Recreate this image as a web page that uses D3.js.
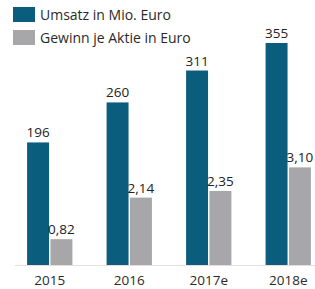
<!DOCTYPE html>
<html>
<head>
<meta charset="utf-8">
<script src="https://cdn.jsdelivr.net/npm/d3@7"></script>
<style>
  body { margin: 0; background: #fff; }
  text { font-family: "Open Sans", "Noto Sans", sans-serif; }
</style>
</head>
<body>
<div id="chart"></div>
<script>
const years = ["2015", "2016", "2017e", "2018e"];
const umsatz = [196, 260, 311, 355];
const gewinn = [0.82, 2.14, 2.35, 3.10];
const gewinnLabels = ["0,82", "2,14", "2,35", "3,10"];
const seriesNames = ["Umsatz in Mio. Euro", "Gewinn je Aktie in Euro"];
const colors = ["#0b5d7e", "#a7a7a9"];

const width = 315, height = 289;
const baseY = 265;

const svg = d3.select("#chart")
  .append("svg")
  .attr("width", width)
  .attr("height", height);

// outer band for the year groups
const x = d3.scaleBand()
  .domain(years)
  .range([10, 328])
  .paddingInner(0.43)
  .paddingOuter(0.215);

// inner band for the two series
const xs = d3.scaleBand()
  .domain([0, 1])
  .range([0, x.bandwidth()])
  .paddingInner(0.06);

// two separate value scales (sales and EPS)
const y1 = d3.scaleLinear().domain([0, 355]).range([baseY, 43]);
const y2 = d3.scaleLinear().domain([0, 7.05]).range([baseY, 43]);

// baseline + year labels
const xAxis = svg.append("g")
  .attr("transform", "translate(0," + baseY + ")")
  .call(d3.axisBottom(x).tickSize(0).tickPadding(10));
xAxis.select(".domain").attr("stroke", "#eadcdc").attr("stroke-width", 1.2)
  .attr("d", "M15,0.5H315");
xAxis.selectAll("text")
  .attr("font-size", 13.5)
  .attr("font-weight", 500)
  .attr("fill", "#2a2a2a");

const groups = svg.selectAll(".grp")
  .data(years)
  .enter()
  .append("g")
  .attr("transform", d => "translate(" + x(d) + ",0)");

// Umsatz bars
groups.append("rect")
  .attr("x", xs(0))
  .attr("y", (d, i) => y1(umsatz[i]))
  .attr("width", xs.bandwidth())
  .attr("height", (d, i) => baseY - y1(umsatz[i]))
  .attr("fill", colors[0]);

groups.append("text")
  .attr("x", xs(0) + xs.bandwidth() / 2)
  .attr("y", (d, i) => y1(umsatz[i]) - 5)
  .attr("text-anchor", "middle")
  .attr("font-size", 13.5)
  .attr("font-weight", 500)
  .attr("fill", "#222")
  .text((d, i) => umsatz[i]);

// Gewinn bars
groups.append("rect")
  .attr("x", xs(1))
  .attr("y", (d, i) => y2(gewinn[i]))
  .attr("width", xs.bandwidth())
  .attr("height", (d, i) => baseY - y2(gewinn[i]))
  .attr("fill", colors[1]);

groups.append("text")
  .attr("x", xs(1) + xs.bandwidth() / 2)
  .attr("y", (d, i) => y2(gewinn[i]) - 5)
  .attr("text-anchor", "middle")
  .attr("font-size", 13.5)
  .attr("font-weight", 500)
  .attr("fill", "#222")
  .text((d, i) => gewinnLabels[i]);

// legend
const legend = svg.selectAll(".leg")
  .data(seriesNames)
  .enter()
  .append("g")
  .attr("transform", (d, i) => "translate(13," + (7 + i * 23) + ")");

legend.append("rect")
  .attr("width", 22)
  .attr("height", 15)
  .attr("fill", (d, i) => colors[i]);

legend.append("text")
  .attr("x", 27)
  .attr("y", 12.5)
  .attr("font-size", 14)
  .attr("font-weight", 500)
  .attr("fill", "#2a2a2a")
  .text(d => d);
</script>
</body>
</html>
